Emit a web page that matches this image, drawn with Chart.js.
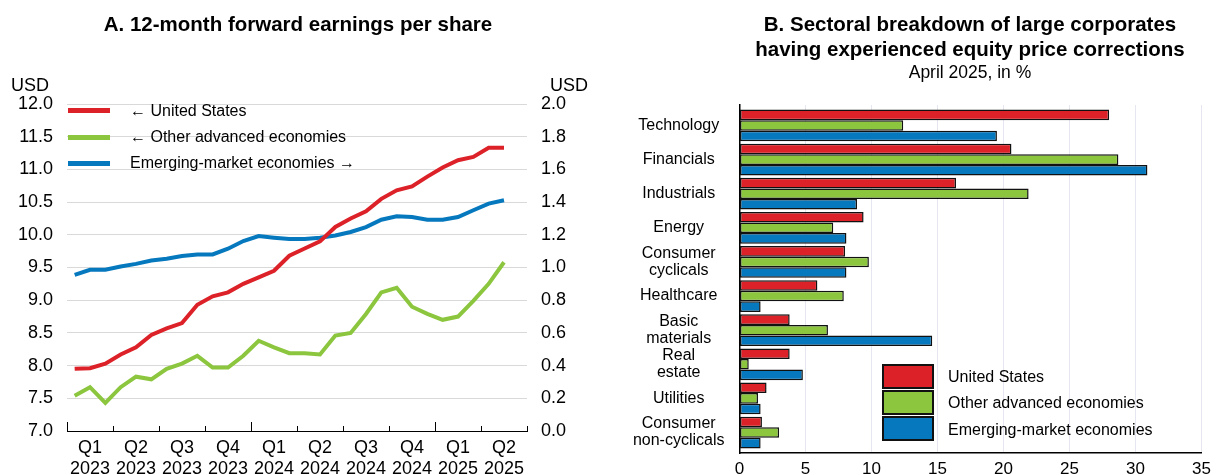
<!DOCTYPE html>
<html>
<head>
<meta charset="utf-8">
<script src="https://cdn.jsdelivr.net/npm/chart.js@4.4.1/dist/chart.umd.min.js"></script>
<style>
body { margin: 0; background: #fff; font-family: "Liberation Sans", Arial, sans-serif; color: #000; }
#wrap { position: relative; width: 1217px; height: 475px; overflow: hidden; }
canvas { position: absolute; top: 0; }
.txt { position: absolute; white-space: nowrap; line-height: 1; transform: translateY(-50%); }
.title { font-weight: bold; font-size: 20.5px; transform: translate(-50%, -50%); text-align: center; }
.swatch { position: absolute; height: 5px; width: 42px; left: 68px; }
.box { position: absolute; left: 882px; width: 52px; height: 25px; border: 2px solid #111; box-sizing: border-box; }
</style>
</head>
<body>
<div id="wrap">
    <canvas id="eps" width="600" height="475" style="left:0"></canvas>
    <canvas id="sectors" width="617" height="475" style="left:600px"></canvas>

    <div class="txt title" style="left:298px; top:24px">A. 12-month forward earnings per share</div>
    <div class="txt" style="left:11px; top:85px; font-size:18px">USD</div>
    <div class="txt" style="left:550px; top:85px; font-size:18px">USD</div>

    <div class="swatch" id="sw-us" style="top:108px"></div>
    <div class="swatch" id="sw-other" style="top:135px"></div>
    <div class="swatch" id="sw-eme" style="top:161px"></div>
    <div class="txt" style="left:130px; top:111px; font-size:16px">← United States</div>
    <div class="txt" style="left:130px; top:137px; font-size:16px">← Other advanced economies</div>
    <div class="txt" style="left:130px; top:163px; font-size:16px">Emerging-market economies →</div>

    <div class="txt title" style="left:970px; top:24px">B. Sectoral breakdown of large corporates</div>
    <div class="txt title" style="left:970px; top:49px">having experienced equity price corrections</div>
    <div class="txt title" style="left:970px; top:73px; font-weight:normal; font-size:17.5px">April 2025, in %</div>

    <div class="box" id="bx-us" style="top:364px"></div>
    <div class="box" id="bx-other" style="top:390px"></div>
    <div class="box" id="bx-eme" style="top:416px"></div>
    <div class="txt" style="left:948px; top:377px; font-size:16px">United States</div>
    <div class="txt" style="left:948px; top:403px; font-size:16px">Other advanced economies</div>
    <div class="txt" style="left:948px; top:430px; font-size:16px">Emerging-market economies</div>
</div>
<script>
// Panel A: monthly, Jan 2023 - May 2025
const quarterLabels = [
    ['Q1', '2023'], ['Q2', '2023'], ['Q3', '2023'], ['Q4', '2023'],
    ['Q1', '2024'], ['Q2', '2024'], ['Q3', '2024'], ['Q4', '2024'],
    ['Q1', '2025'], ['Q2', '2025']
];
const usEps = [7.95, 7.96, 8.03, 8.17, 8.28, 8.47, 8.57, 8.65, 8.93, 9.06, 9.12, 9.25, 9.35, 9.45, 9.68,
    9.79, 9.90, 10.12, 10.25, 10.36, 10.55, 10.68, 10.74, 10.89, 11.03, 11.14, 11.19, 11.33, 11.33];
const otherEps = [7.54, 7.67, 7.43, 7.67, 7.83, 7.79, 7.95, 8.03, 8.15, 7.97, 7.97, 8.15, 8.38, 8.28, 8.19,
    8.19, 8.17, 8.46, 8.50, 8.79, 9.12, 9.19, 8.90, 8.79, 8.70, 8.75, 8.99, 9.25, 9.58];
const emeEps = [0.955, 0.986, 0.986, 1.006, 1.022, 1.043, 1.053, 1.070, 1.080, 1.080, 1.115, 1.162, 1.192, 1.182, 1.174,
    1.174, 1.182, 1.196, 1.217, 1.247, 1.292, 1.313, 1.309, 1.292, 1.292, 1.309, 1.350, 1.391, 1.411];

// Panel B: share of large corporates, %
const sectorLabels = ['Technology', 'Financials', 'Industrials', 'Energy', ['Consumer', 'cyclicals'],
    'Healthcare', ['Basic', 'materials'], ['Real', 'estate'], 'Utilities', ['Consumer', 'non-cyclicals']];
const usShare = [28.0, 20.6, 16.4, 9.4, 8.0, 5.9, 3.8, 3.8, 2.05, 1.7];
const otherShare = [12.4, 28.7, 21.9, 7.1, 9.8, 7.9, 6.7, 0.7, 1.4, 3.0];
const emeShare = [19.5, 30.9, 8.9, 8.1, 8.1, 1.6, 14.6, 4.8, 1.6, 1.6];

const RED = '#dc2228';
const GREEN = '#8cc63f';
const BLUE = '#0678be';

Chart.defaults.font.family = "'Liberation Sans', Arial, sans-serif";
Chart.defaults.color = '#000';

['sw', 'bx'].forEach(p => {
    document.getElementById(p + '-us').style.background = RED;
    document.getElementById(p + '-other').style.background = GREEN;
    document.getElementById(p + '-eme').style.background = BLUE;
});

const monthly = arr => arr.map((v, i) => ({ x: i + 0.5, y: v }));
const bySector = arr => arr.map((v, i) => ({ x: v, y: i }));

// small tick marks pointing up into the plot, longer at year starts
const quarterTicks = {
    id: 'quarterTicks',
    afterDraw(chart) {
        const xs = chart.scales.x;
        const ctx = chart.ctx;
        const bottom = chart.chartArea.bottom;
        ctx.save();
        ctx.strokeStyle = '#000';
        ctx.lineWidth = 1;
        for (let m = 0; m <= 30; m += 3) {
            const px = Math.round(xs.getPixelForValue(m)) + 0.5;
            const len = m % 12 === 0 ? 9 : 5;
            ctx.beginPath();
            ctx.moveTo(px, bottom);
            ctx.lineTo(px, bottom - len);
            ctx.stroke();
        }
        ctx.restore();
    }
};

new Chart(document.getElementById('eps'), {
    type: 'line',
    data: {
        datasets: [
            { label: 'United States', data: monthly(usEps), borderColor: RED, yAxisID: 'y' },
            { label: 'Other advanced economies', data: monthly(otherEps), borderColor: GREEN, yAxisID: 'y' },
            { label: 'Emerging-market economies', data: monthly(emeEps), borderColor: BLUE, yAxisID: 'y1' }
        ]
    },
    options: {
        responsive: false,
        animation: false,
        devicePixelRatio: 1,
        layout: { padding: { top: 104, left: 0, right: 0, bottom: 0 } },
        datasets: { line: { borderWidth: 4, pointRadius: 0, tension: 0, borderCapStyle: 'butt' } },
        plugins: { legend: { display: false }, tooltip: { enabled: false } },
        scales: {
            x: {
                type: 'linear', min: 0, max: 30,
                afterBuildTicks(axis) { axis.ticks = quarterLabels.map((q, i) => ({ value: i * 3 + 1.5 })); },
                ticks: {
                    autoSkip: false, maxRotation: 0, padding: -2,
                    font: { size: 18, lineHeight: 1.2 },
                    callback: (v, i) => quarterLabels[i]
                },
                grid: { display: false },
                border: { display: true, color: '#000', width: 1 },
                afterFit(s) { s.height = 44; }
            },
            y: {
                position: 'left', min: 7, max: 12,
                ticks: { stepSize: 0.5, padding: 14, font: { size: 18 }, callback: v => v.toFixed(1) },
                grid: { drawTicks: false, color: c => c.tick.value === 7 ? 'rgba(0,0,0,0)' : '#d9d9d9' },
                border: { display: false },
                afterFit(s) { s.width = 67; }
            },
            y1: {
                position: 'right', min: 0, max: 2,
                ticks: { stepSize: 0.2, padding: 14, font: { size: 18 }, callback: v => v.toFixed(1) },
                grid: { drawOnChartArea: false, drawTicks: false },
                border: { display: false },
                afterFit(s) { s.width = 73; }
            }
        }
    },
    plugins: [quarterTicks]
});

new Chart(document.getElementById('sectors'), {
    type: 'bar',
    data: {
        datasets: [
            { label: 'United States', data: bySector(usShare), backgroundColor: RED },
            { label: 'Other advanced economies', data: bySector(otherShare), backgroundColor: GREEN },
            { label: 'Emerging-market economies', data: bySector(emeShare), backgroundColor: BLUE }
        ]
    },
    options: {
        indexAxis: 'y',
        responsive: false,
        animation: false,
        devicePixelRatio: 1,
        layout: { padding: { top: 105, right: 12, left: 0, bottom: 0 } },
        datasets: { bar: { categoryPercentage: 0.93, barPercentage: 1, borderColor: '#111', borderWidth: 1.5, borderSkipped: false } },
        plugins: { legend: { display: false }, tooltip: { enabled: false } },
        scales: {
            x: {
                type: 'linear', min: 0, max: 35,
                ticks: { stepSize: 5, padding: 6, font: { size: 17 } },
                grid: { color: '#e6e6f0', drawTicks: false },
                border: { color: '#000', width: 1.5 },
                afterFit(s) { s.height = 22; }
            },
            y: {
                type: 'linear', reverse: true, min: -0.6, max: 9.6, offset: false,
                afterBuildTicks(axis) { axis.ticks = sectorLabels.map((s, i) => ({ value: i })); },
                ticks: {
                    crossAlign: 'center', padding: 7, autoSkip: false,
                    font: { size: 16, lineHeight: 1.07 },
                    callback: (v, i) => sectorLabels[i]
                },
                grid: { display: false, offset: false },
                border: { color: '#000', width: 1.5 },
                afterFit(s) { s.width = 139.5; }
            }
        }
    }
});
</script>
</body>
</html>
